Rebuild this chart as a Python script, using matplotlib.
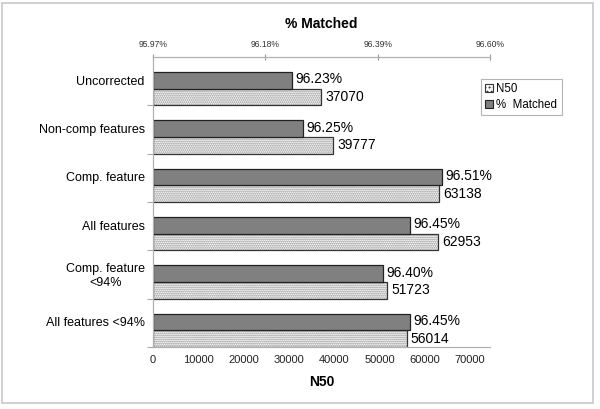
import matplotlib.pyplot as plt
import numpy as np
from matplotlib.patches import Rectangle, Patch

plt.rcParams['font.family'] = ['Liberation Sans', 'DejaVu Sans']
plt.rcParams['hatch.linewidth'] = 0.9

categories = ['Uncorrected', 'Non-comp features', 'Comp. feature',
              'All features', 'Comp. feature\n<94%', 'All features <94%']
n50 = [37070, 39777, 63138, 62953, 51723, 56014]
matched = [96.23, 96.25, 96.51, 96.45, 96.40, 96.45]

n50_ticks = [0, 10000, 20000, 30000, 40000, 50000, 60000, 70000]
pct_ticks = [95.97, 96.18, 96.39, 96.60]

fig = plt.figure(figsize=(6, 4.09), dpi=100)
fig.patches.append(Rectangle((0.004, 0.014), 0.985, 0.978, transform=fig.transFigure,
                             fill=False, edgecolor='#c8c8c8', linewidth=1.2))

ax = fig.add_axes([0.255, 0.1516, 0.5617, 0.709])
ax2 = ax.twiny()

y = np.arange(len(categories))
h = 0.345
y_dark = y + 0.483
y_dot = y + 0.828

# N50 bars: gray dotted fill, then dark outline
ax.barh(y_dot, n50, height=h, color='white', edgecolor='#8c8c8c', hatch='........', linewidth=0)
ax.barh(y_dot, n50, height=h, fill=False, edgecolor='#333333', linewidth=0.9)

lo = pct_ticks[0]
ax2.barh(y_dark, [m - lo for m in matched], left=lo, height=h, color='#808080',
         edgecolor='#222222', linewidth=0.9)

for yy, v in zip(y_dot, n50):
    ax.text(v + 900, yy, str(v), va='center', ha='left', fontsize=10)
for yy, m in zip(y_dark, matched):
    ax2.text(m + 0.007, yy - 0.02, f'{m:.2f}%', va='center', ha='left', fontsize=10)

ax.set_xlim(0, 74400)
ax2.set_xlim(95.97, 96.60)
ax.set_ylim(len(categories), 0)

ax.set_xticks(n50_ticks)
ax.set_xticklabels([str(t) for t in n50_ticks], fontsize=8, color='#222222')
ax.tick_params(axis='x', length=0, pad=6)
ax2.set_xticks(pct_ticks)
ax2.set_xticklabels([f'{t:.2f}%' for t in pct_ticks], fontsize=6.2, color='#333333')
ax2.tick_params(axis='x', direction='inout', length=5, color='#999999', pad=3)

ax.set_yticks(np.arange(1, len(categories) + 1))
ax.set_yticklabels([])
ax.tick_params(axis='y', which='major', length=4, color='#aaaaaa')
ax.set_yticks(y + 0.48, minor=True)
ax.set_yticklabels(categories, minor=True, fontsize=9, ha='right', multialignment='center')
ax.tick_params(axis='y', which='minor', length=0, pad=6)

for a in (ax, ax2):
    for s in a.spines.values():
        s.set_color('#b0b0b0')
        s.set_linewidth(0.8)
    a.spines['right'].set_visible(False)

ax.set_xlabel('N50', fontsize=10, fontweight='bold', labelpad=7)
ax2.set_xlabel('% Matched', fontsize=10, fontweight='bold', labelpad=9)

handles = [Patch(facecolor='white', edgecolor='#333333', hatch='....', linewidth=0.8),
           Patch(facecolor='#808080', edgecolor='#222222', linewidth=0.8)]
leg = ax2.legend(handles, ['N50', '%  Matched'], loc='upper left',
                 bbox_to_anchor=(0.973, 0.924),
                 fontsize=8.3, frameon=True, fancybox=False, edgecolor='#a0a0a0',
                 handlelength=0.7, handleheight=0.7, handletextpad=0.3,
                 borderpad=0.35, labelspacing=0.35, borderaxespad=0)
leg.get_frame().set_linewidth(0.8)

fig.savefig('out.png', dpi=100)
